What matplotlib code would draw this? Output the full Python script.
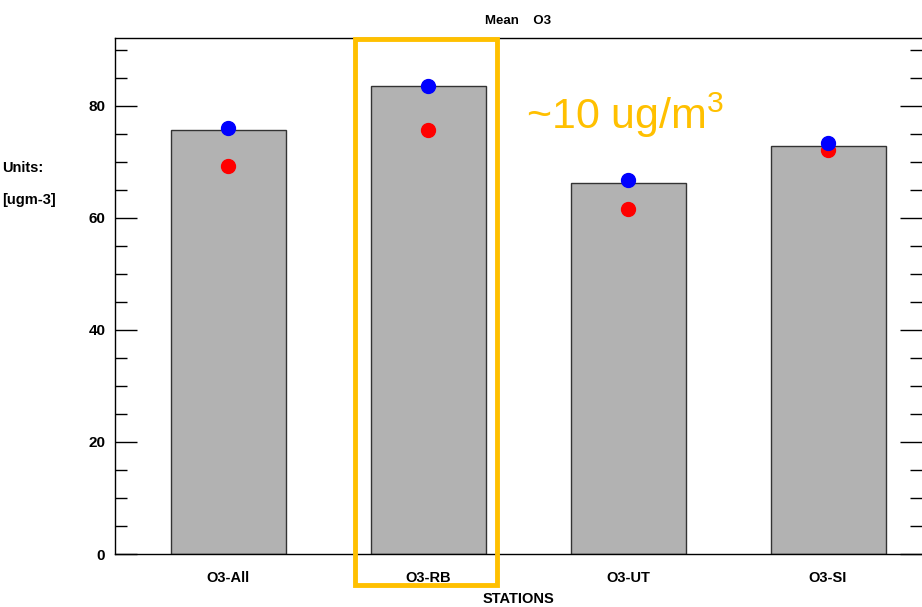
import matplotlib
matplotlib.use('Agg')
import matplotlib.pyplot as plt
from matplotlib.patches import Rectangle
from matplotlib.ticker import MultipleLocator

plt.rcParams['font.family'] = ['Liberation Sans', 'DejaVu Sans']
plt.rcParams['mathtext.fontset'] = 'custom'
plt.rcParams['mathtext.rm'] = 'Liberation Sans'
plt.rcParams['mathtext.it'] = 'Liberation Sans:italic'
plt.rcParams['mathtext.bf'] = 'Liberation Sans:bold'

stations = ['O3-All', 'O3-RB', 'O3-UT', 'O3-SI']
bar_mean = [75.7, 83.6, 66.3, 72.9]   # grey bars
blue_vals = [76.0, 83.6, 66.7, 73.3]
red_vals = [69.3, 75.7, 61.5, 72.1]

W, H = 922, 607
fig = plt.figure(figsize=(W / 100, H / 100), dpi=100)
ax = fig.add_axes([115 / W, 1 - 554 / H, (922 - 115) / W, (554 - 38) / H])

x = list(range(len(stations)))
ax.bar(x, bar_mean, width=0.575, color='#b2b2b2', edgecolor='#333333', linewidth=1.0, zorder=2)
ax.plot(x, red_vals, 'o', color='#ff0000', markersize=10, zorder=3)
ax.plot(x, blue_vals, 'o', color='#0000ff', markersize=10, zorder=4)

ax.set_xlim(-0.565, 3.47)
ax.set_ylim(0, 92.1)
ax.yaxis.set_major_locator(MultipleLocator(20))
ax.yaxis.set_minor_locator(MultipleLocator(5))
ax.set_xticks(x)
ax.set_xticklabels(stations, fontweight='bold', fontsize=10.5)
for lbl in ax.get_yticklabels():
    lbl.set_fontweight('bold')
ax.tick_params(axis='y', which='major', direction='in', length=16, width=1,
               left=True, right=True, labelsize=11, pad=7)
ax.tick_params(axis='y', which='minor', direction='in', length=8.5, width=1,
               left=True, right=True)
ax.tick_params(axis='x', which='major', direction='in', length=8, width=1,
               top=False, pad=12)
for s in ax.spines.values():
    s.set_linewidth(1)
ax.spines['right'].set_visible(False)

ax.set_xlabel('STATIONS', fontweight='bold', fontsize=10.5, labelpad=5)
ax.set_title('Mean    O3', fontweight='bold', fontsize=9.5, pad=10)

fig.text(2 / W, 1 - 168 / H, 'Units:', fontweight='bold', fontsize=10.5, va='center')
fig.text(2 / W, 1 - 200 / H, '[ugm-3]', fontweight='bold', fontsize=10.5, va='center')

# highlight box around the RB station
ax.add_patch(Rectangle((1 - 0.365, -5.5), 0.71, 97.4, fill=False,
                       edgecolor='#ffc000', linewidth=3.5, clip_on=False, zorder=5))
ax.text(1.49, 78.3, r'~10 ug/m$^{\mathrm{3}}$', color='#ffc000', fontsize=31,
        ha='left', va='center', zorder=5)

fig.savefig('out.png', dpi=100)
